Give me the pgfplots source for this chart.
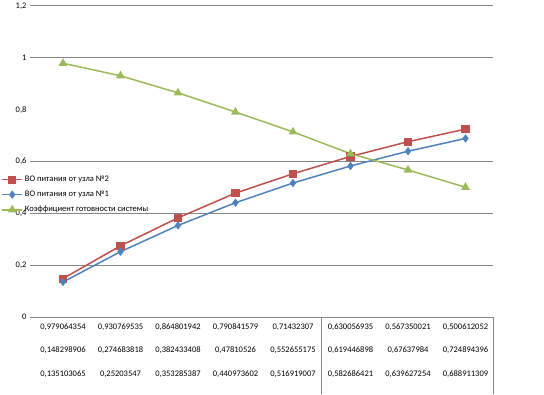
\documentclass[border=0pt]{standalone}
\usepackage{pgfplots}
\pgfplotsset{compat=1.18}
\usepackage{fontspec}
\setmainfont{Carlito}
\definecolor{cred}{HTML}{C0504D}
\definecolor{cblue}{HTML}{4F81BD}
\definecolor{cgreen}{HTML}{9BBB59}
\definecolor{cgrid}{HTML}{868686}
\begin{document}
\begin{tikzpicture}[x=1pt,y=1pt]
\useasboundingbox (0,0) rectangle (544,394);
\begin{axis}[
  at={(30pt,77pt)}, anchor=south west,
  scale only axis, width=463pt, height=311pt,
  xmin=-0.574, xmax=7.478, ymin=0, ymax=1.2,
  axis line style={draw=none},
  tick style={draw=none},
  ytick={0,0.2,0.4,0.6,0.8,1,1.2},
  extra y ticks={0,0.2,0.4,0.6,1,1.2},
  extra y tick labels={},
  extra y tick style={grid=major, major grid style={cgrid, line width=1pt}},
  yticklabel style={font=\fontsize{8.5}{10}\selectfont, /pgf/number format/use comma, xshift=0pt},
  /pgf/number format/assume math mode=true,
  xtick={0,...,7},
  xticklabel style={font=\fontsize{8.5}{23.5}\selectfont, align=center, yshift=-3pt},
  xticklabels={
    {0,979064354\\0,148298906\\0,135103065},
    {0,930769535\\0,274683818\\0,25203547},
    {0,864801942\\0,382433408\\0,353285387},
    {0,790841579\\0,47810526\\0,440973602},
    {0,71432307\\0,552655175\\0,516919007},
    {0,630056935\\0,619446898\\0,582686421},
    {0,567350021\\0,67637984\\0,639627254},
    {0,500612052\\0,724894396\\0,688911309}},
  legend style={at={(-0.062,0.46)}, anchor=north west, draw=none, fill=none,
    font=\fontsize{8.5}{10}\selectfont, row sep=4pt, inner sep=0pt,
    nodes={inner xsep=2pt}},
  legend cell align=left,
  legend image code/.code={
    \draw[mark repeat=2,mark phase=2] plot coordinates {(0pt,0pt) (10pt,0pt) (20pt,0pt)};
  },
]
\addplot[cred, line width=1.5pt, mark=square*, mark size=3.3pt, mark options={solid}] coordinates {
(0,0.148298906) (1,0.274683818) (2,0.382433408) (3,0.47810526) (4,0.552655175) (5,0.619446898) (6,0.67637984) (7,0.724894396)};
\addlegendentry{ВО питания от узла №2}
\addplot[cblue, line width=1.5pt, mark=diamond*, mark size=3pt] coordinates {
(0,0.135103065) (1,0.25203547) (2,0.353285387) (3,0.440973602) (4,0.516919007) (5,0.582686421) (6,0.639627254) (7,0.688911309)};
\addlegendentry{ВО питания от узла №1}
\addplot[cgreen, line width=1.5pt, mark=triangle*, mark size=3.6pt] coordinates {
(0,0.979064354) (1,0.930769535) (2,0.864801942) (3,0.790841579) (4,0.71432307) (5,0.630056935) (6,0.567350021) (7,0.500612052)};
\addlegendentry{Коэффициент готовности системы}
\end{axis}
\draw[cgrid, line width=1pt] (321,0) -- (321,77);
\draw[cgrid, line width=1pt] (493,0) -- (493,77);
\end{tikzpicture}
\end{document}
